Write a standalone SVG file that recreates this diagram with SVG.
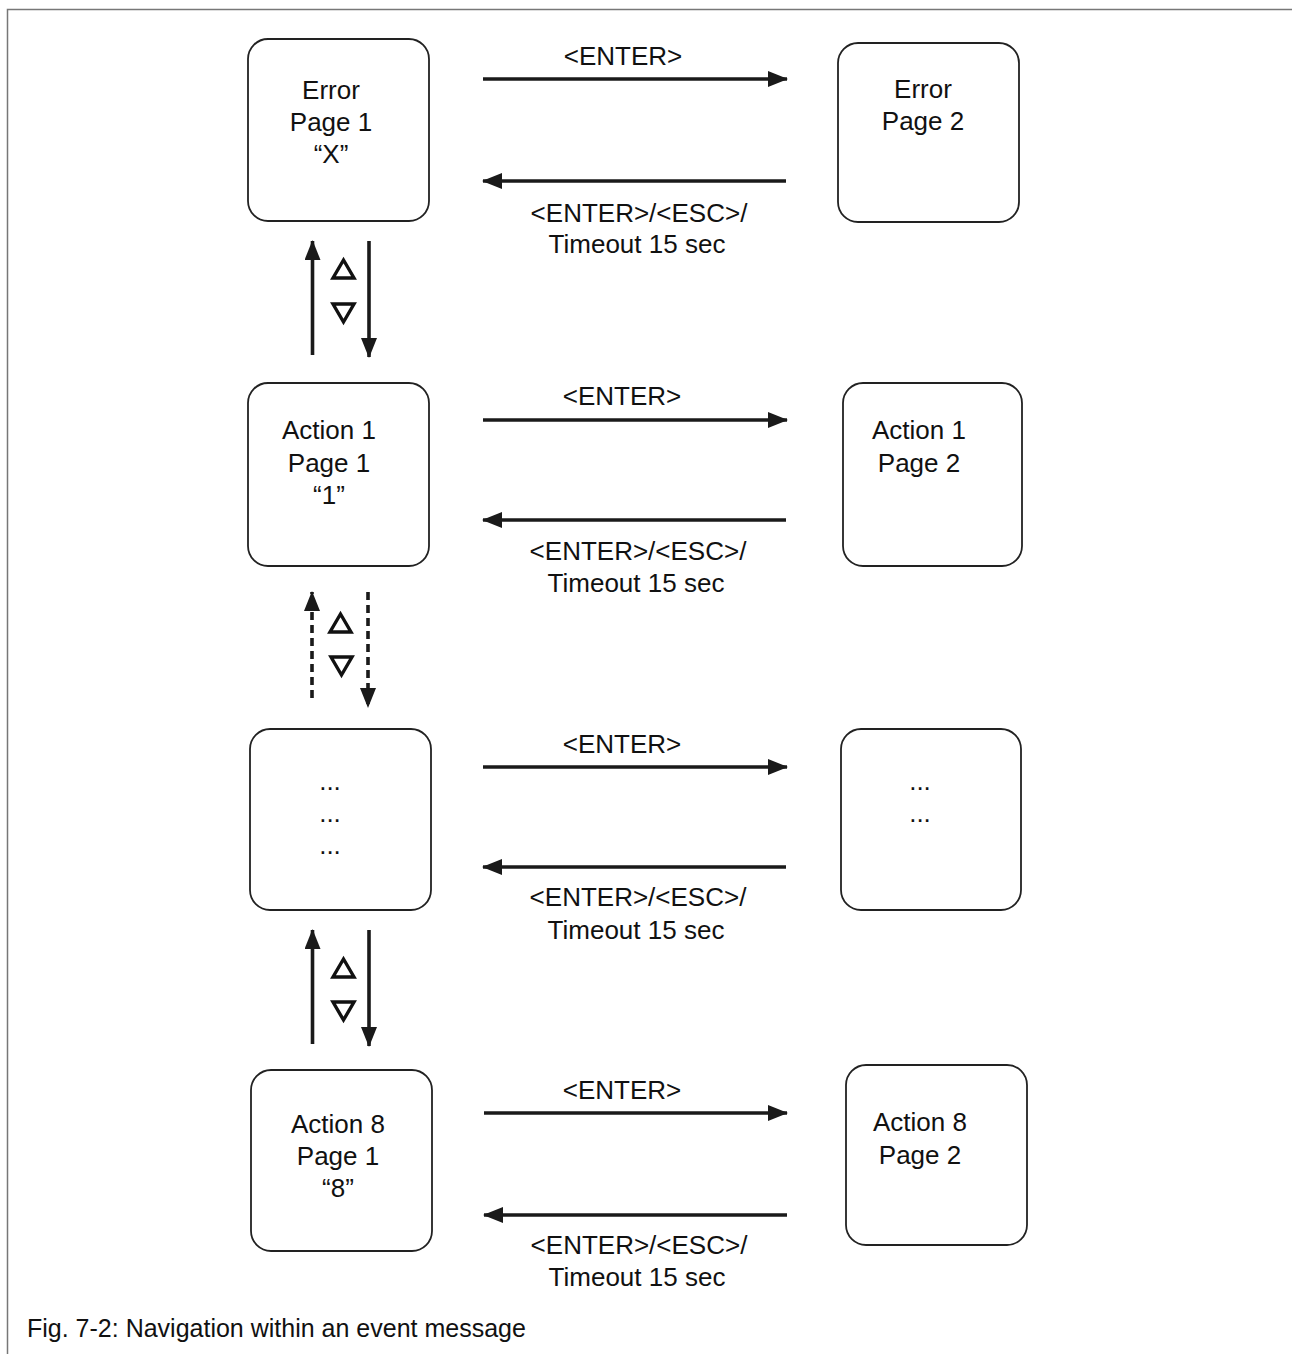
<svg xmlns="http://www.w3.org/2000/svg" width="1292" height="1354" viewBox="0 0 1292 1354">
<style>
.box{fill:#fff;stroke:#222;stroke-width:1.8}
.t{font-family:"Liberation Sans",Arial,Helvetica,sans-serif;font-size:26px;fill:#111;text-anchor:middle}
.cap{font-family:"Liberation Sans",Arial,Helvetica,sans-serif;font-size:25px;fill:#111}
.ln{stroke:#1a1a1a;stroke-width:3.6;fill:none}
.dash{stroke-dasharray:8 5}
.tri{fill:none;stroke:#111;stroke-width:3.4;stroke-linejoin:miter}
.frame{fill:none;stroke:#777;stroke-width:1.5}
</style>
<defs>
<marker id="ah" markerWidth="20" markerHeight="16" refX="19" refY="8" orient="auto" markerUnits="userSpaceOnUse">
<path d="M0,0 L20,8 L0,16 Z" fill="#1a1a1a"/>
</marker>
</defs>
<rect width="1292" height="1354" fill="#fff"/>
<path class="frame" d="M7.5,1354 V9.5 H1292"/>

<g id="node-error-p1">
<rect class="box" x="248" y="39" width="181" height="182" rx="20"/>
<text class="t" x="331" y="99">Error</text>
<text class="t" x="331" y="131">Page 1</text>
<text class="t" x="331" y="163">“X”</text>
</g>
<g id="node-error-p2">
<rect class="box" x="838" y="43" width="181" height="179" rx="20"/>
<text class="t" x="923" y="98">Error</text>
<text class="t" x="923" y="130">Page 2</text>
</g>
<g id="node-action1-p1">
<rect class="box" x="248" y="383" width="181" height="183" rx="20"/>
<text class="t" x="329" y="439">Action 1</text>
<text class="t" x="329" y="472">Page 1</text>
<text class="t" x="329" y="504">“1”</text>
</g>
<g id="node-action1-p2">
<rect class="box" x="843" y="383" width="179" height="183" rx="20"/>
<text class="t" x="919" y="439">Action 1</text>
<text class="t" x="919" y="472">Page 2</text>
</g>
<g id="node-more-p1">
<rect class="box" x="250" y="729" width="181" height="181" rx="20"/>
<text class="t" x="330" y="790">...</text>
<text class="t" x="330" y="822">...</text>
<text class="t" x="330" y="854">...</text>
</g>
<g id="node-more-p2">
<rect class="box" x="841" y="729" width="180" height="181" rx="20"/>
<text class="t" x="920" y="790">...</text>
<text class="t" x="920" y="822">...</text>
</g>
<g id="node-action8-p1">
<rect class="box" x="251" y="1070" width="181" height="181" rx="20"/>
<text class="t" x="338" y="1133">Action 8</text>
<text class="t" x="338" y="1165">Page 1</text>
<text class="t" x="338" y="1197">“8”</text>
</g>
<g id="node-action8-p2">
<rect class="box" x="846" y="1065" width="181" height="180" rx="20"/>
<text class="t" x="920" y="1131">Action 8</text>
<text class="t" x="920" y="1164">Page 2</text>
</g>

<g id="connectors">
<!-- row 1 -->
<line class="ln" x1="483" y1="79" x2="787" y2="79" marker-end="url(#ah)"/>
<line class="ln" x1="786" y1="181" x2="483" y2="181" marker-end="url(#ah)"/>
<text class="t" x="623" y="65">&lt;ENTER&gt;</text>
<text class="t" x="639" y="222">&lt;ENTER&gt;/&lt;ESC&gt;/</text>
<text class="t" x="637" y="253">Timeout 15 sec</text>
<!-- row 2 -->
<line class="ln" x1="483" y1="420" x2="787" y2="420" marker-end="url(#ah)"/>
<line class="ln" x1="786" y1="520" x2="483" y2="520" marker-end="url(#ah)"/>
<text class="t" x="622" y="405">&lt;ENTER&gt;</text>
<text class="t" x="638" y="560">&lt;ENTER&gt;/&lt;ESC&gt;/</text>
<text class="t" x="636" y="592">Timeout 15 sec</text>
<!-- row 3 -->
<line class="ln" x1="483" y1="767" x2="787" y2="767" marker-end="url(#ah)"/>
<line class="ln" x1="786" y1="867" x2="483" y2="867" marker-end="url(#ah)"/>
<text class="t" x="622" y="753">&lt;ENTER&gt;</text>
<text class="t" x="638" y="906">&lt;ENTER&gt;/&lt;ESC&gt;/</text>
<text class="t" x="636" y="939">Timeout 15 sec</text>
<!-- row 4 -->
<line class="ln" x1="484" y1="1113" x2="787" y2="1113" marker-end="url(#ah)"/>
<line class="ln" x1="787" y1="1215" x2="484" y2="1215" marker-end="url(#ah)"/>
<text class="t" x="622" y="1099">&lt;ENTER&gt;</text>
<text class="t" x="639" y="1254">&lt;ENTER&gt;/&lt;ESC&gt;/</text>
<text class="t" x="637" y="1286">Timeout 15 sec</text>

<!-- vertical 1-2 -->
<line class="ln" x1="312.5" y1="355" x2="312.5" y2="241" marker-end="url(#ah)"/>
<line class="ln" x1="369" y1="241" x2="369" y2="357" marker-end="url(#ah)"/>
<path class="tri" d="M343.5,260 L354,278 L333,278 Z"/>
<path class="tri" d="M333,304 L354,304 L343.5,322 Z"/>
<!-- vertical 2-3 dashed -->
<line class="ln dash" x1="312" y1="698" x2="312" y2="592" marker-end="url(#ah)"/>
<line class="ln dash" x1="368" y1="592" x2="368" y2="707" marker-end="url(#ah)"/>
<path class="tri" d="M340.5,614 L351,632 L330,632 Z"/>
<path class="tri" d="M331,657 L352,657 L341.5,675 Z"/>
<!-- vertical 3-4 -->
<line class="ln" x1="312.5" y1="1044" x2="312.5" y2="930" marker-end="url(#ah)"/>
<line class="ln" x1="369" y1="930" x2="369" y2="1046" marker-end="url(#ah)"/>
<path class="tri" d="M343.5,959 L354,977 L333,977 Z"/>
<path class="tri" d="M333,1002 L354,1002 L343.5,1020 Z"/>
</g>

<text class="cap" x="27" y="1337">Fig. 7-2: Navigation within an event message</text>
</svg>
